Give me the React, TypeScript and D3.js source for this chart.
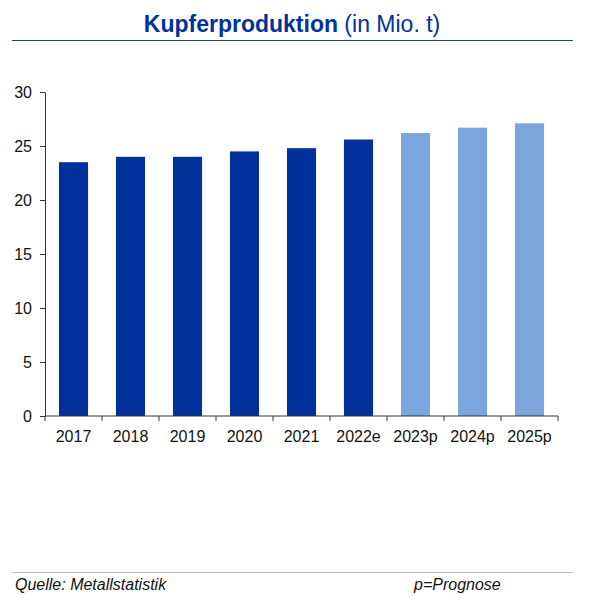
import * as d3 from 'd3';
import { useEffect, useRef } from 'react';

const years = ['2017', '2018', '2019', '2020', '2021', '2022e', '2023p', '2024p', '2025p'];
const production = [23.5, 24.0, 24.0, 24.5, 24.8, 25.6, 26.2, 26.7, 27.1];
const forecast = [false, false, false, false, false, false, true, true, true];
const yTicks = [0, 5, 10, 15, 20, 25, 30];

export default function App() {
  const ref = useRef<SVGSVGElement | null>(null);

  useEffect(() => {
    const svg = d3.select(ref.current);
    svg.selectAll('*').remove();
    const width = 590;
    const height = 600;
    const font = 'Liberation Sans, Arial, sans-serif';

    svg.append('rect').attr('width', width).attr('height', height).attr('fill', '#fff');

    // title
    const title = svg.append('text')
      .attr('x', 292)
      .attr('y', 32)
      .attr('text-anchor', 'middle')
      .attr('font-family', font)
      .attr('font-size', 23)
      .attr('fill', '#003399');
    title.append('tspan').attr('font-weight', 'bold').text('Kupferproduktion');
    title.append('tspan').text(' (in Mio. t)');

    svg.append('line')
      .attr('x1', 12).attr('x2', 573).attr('y1', 40.5).attr('y2', 40.5)
      .attr('stroke', '#1f3f8f').attr('stroke-width', 1.2);

    const left = 45;
    const right = 558;
    const top = 92;
    const bottom = 416;

    const x = d3.scaleBand().domain(years).range([left, right]).paddingInner(0.49).paddingOuter(0.245);
    const xAxisScale = d3.scaleBand().domain(years).range([left, right]);
    const y = d3.scaleLinear().domain([0, 30]).range([bottom, top]);

    svg.append('g')
      .selectAll('rect')
      .data(years)
      .enter()
      .append('rect')
      .attr('x', (d) => x(d)!)
      .attr('y', (_, i) => y(production[i]))
      .attr('width', x.bandwidth())
      .attr('height', (_, i) => bottom - y(production[i]))
      .attr('fill', (_, i) => (forecast[i] ? '#7aa5dd' : '#00309a'));

    // y axis
    const yAxis = svg.append('g')
      .attr('transform', `translate(${left},0)`)
      .call(d3.axisLeft(y).tickValues(yTicks).tickSize(5).tickPadding(8).tickSizeOuter(0));
    yAxis.select('.domain').attr('stroke', '#333');
    yAxis.selectAll('line').attr('stroke', '#333');
    yAxis.selectAll('text').attr('font-family', font).attr('font-size', 16).attr('fill', '#111');

    // x axis with ticks between categories
    const xg = svg.append('g').attr('transform', `translate(0,${bottom})`);
    xg.append('line').attr('x1', left).attr('x2', right).attr('stroke', '#333');
    const bounds = years.map((d) => xAxisScale(d)!).concat([right]);
    xg.selectAll('line.tick')
      .data(bounds)
      .enter()
      .append('line')
      .attr('class', 'tick')
      .attr('x1', (d) => d).attr('x2', (d) => d)
      .attr('y1', 0).attr('y2', 5)
      .attr('stroke', '#333');
    xg.selectAll('text')
      .data(years)
      .enter()
      .append('text')
      .attr('x', (d) => xAxisScale(d)! + xAxisScale.bandwidth() / 2)
      .attr('y', 26)
      .attr('text-anchor', 'middle')
      .attr('font-family', font)
      .attr('font-size', 16)
      .attr('fill', '#111')
      .text((d) => d);

    // footer
    svg.append('line')
      .attr('x1', 12).attr('x2', 573).attr('y1', 572.5).attr('y2', 572.5)
      .attr('stroke', '#bbb').attr('stroke-width', 1);
    svg.append('text')
      .attr('x', 15).attr('y', 590)
      .attr('font-family', font).attr('font-size', 16).attr('font-style', 'italic').attr('fill', '#111')
      .text('Quelle: Metallstatistik');
    svg.append('text')
      .attr('x', 414).attr('y', 590)
      .attr('font-family', font).attr('font-size', 16).attr('font-style', 'italic').attr('fill', '#111')
      .text('p=Prognose');
  }, []);

  return (
    <svg
      ref={ref}
      width={590}
      height={600}
      style={{ position: 'absolute', top: 0, left: 0, display: 'block' }}
    />
  );
}
